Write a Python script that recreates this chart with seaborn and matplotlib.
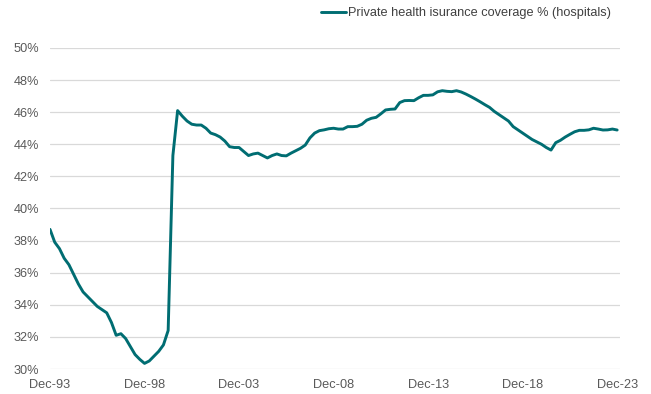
import matplotlib
matplotlib.use("Agg")
import matplotlib.pyplot as plt
import seaborn as sns
import pandas as pd
import numpy as np

# Quarterly private health insurance coverage (hospital), Dec-93 .. Dec-23
coverage = [
    38.7, 37.9, 37.5, 36.9, 36.5, 35.9, 35.3, 34.8, 34.5, 34.2,   # Dec-93 ..
    33.9, 33.7, 33.5, 32.9, 32.1, 32.2, 31.9, 31.4, 30.9, 30.6,
    30.35, 30.5, 30.8, 31.1, 31.5, 32.4, 43.3, 46.1, 45.75, 45.45,  # Dec-98 ..
    45.25, 45.2, 45.2, 45.0, 44.7, 44.6, 44.45, 44.2, 43.85, 43.8,
    43.8, 43.55, 43.3, 43.4, 43.45, 43.3, 43.15, 43.3, 43.4, 43.3,  # Dec-03 ..
    43.28, 43.45, 43.6, 43.75, 43.95, 44.4, 44.7, 44.85, 44.9, 44.97,
    45.0, 44.95, 44.95, 45.1, 45.1, 45.12, 45.25, 45.5, 45.62, 45.68,  # Dec-08 ..
    45.9, 46.14, 46.18, 46.2, 46.6, 46.72, 46.73, 46.72, 46.9, 47.05,
    47.05, 47.08, 47.27, 47.34, 47.3, 47.28, 47.34, 47.26, 47.13, 46.98,  # Dec-13 ..
    46.82, 46.65, 46.47, 46.3, 46.05, 45.85, 45.65, 45.45, 45.1, 44.9,
    44.7, 44.5, 44.3, 44.15, 44.0, 43.8, 43.64, 44.1, 44.25, 44.45,  # Dec-18 ..
    44.62, 44.78, 44.87, 44.87, 44.9, 45.0, 44.95, 44.89, 44.9, 44.95,
    44.89,                                                            # Dec-23
]
quarter_index = list(range(len(coverage)))
tick_positions = [0, 20, 40, 60, 80, 100, 120]
tick_labels = ["Dec-93", "Dec-98", "Dec-03", "Dec-08", "Dec-13", "Dec-18", "Dec-23"]
y_ticks = [30, 32, 34, 36, 38, 40, 42, 44, 46, 48, 50]
series_name = "Private health isurance coverage % (hospitals)"

df = pd.DataFrame({"q": quarter_index, "v": coverage, "s": series_name})

sns.set_theme(style="white")
plt.rcParams["font.family"] = ["Liberation Sans", "DejaVu Sans"]

fig = plt.figure(figsize=(6.51, 3.94), dpi=100)
ax = fig.add_axes([50/651, 1-369/394, (620-50)/651, (369-48)/394])

sns.lineplot(data=df, x="q", y="v", hue="s", palette=["#006d72"],
             linewidth=2.1, ax=ax, legend=True)

ax.set_xlim(0, 120.6)
ax.set_ylim(30, 50)
ax.set_yticks(y_ticks)
ax.set_yticklabels([f"{t}%" for t in y_ticks])
ax.set_xticks(tick_positions)
ax.set_xticklabels(tick_labels)
ax.tick_params(axis="both", length=0, labelsize=9.2, labelcolor="#595959")
ax.tick_params(axis="y", pad=8)
ax.tick_params(axis="x", pad=7)
ax.set_xlabel("")
ax.set_ylabel("")
ax.grid(axis="y", color="#d9d9d9", linewidth=0.9)
ax.set_axisbelow(True)
for sp in ax.spines.values():
    sp.set_visible(False)

leg = ax.legend(loc="center", bbox_to_anchor=(466/651, 1-13/394),
                bbox_transform=fig.transFigure, frameon=False,
                fontsize=9.2, handlelength=2.0, handletextpad=0.15,
                borderpad=0, borderaxespad=0)
for t in leg.get_texts():
    t.set_color("#404040")

fig.savefig("out.png", dpi=100)
